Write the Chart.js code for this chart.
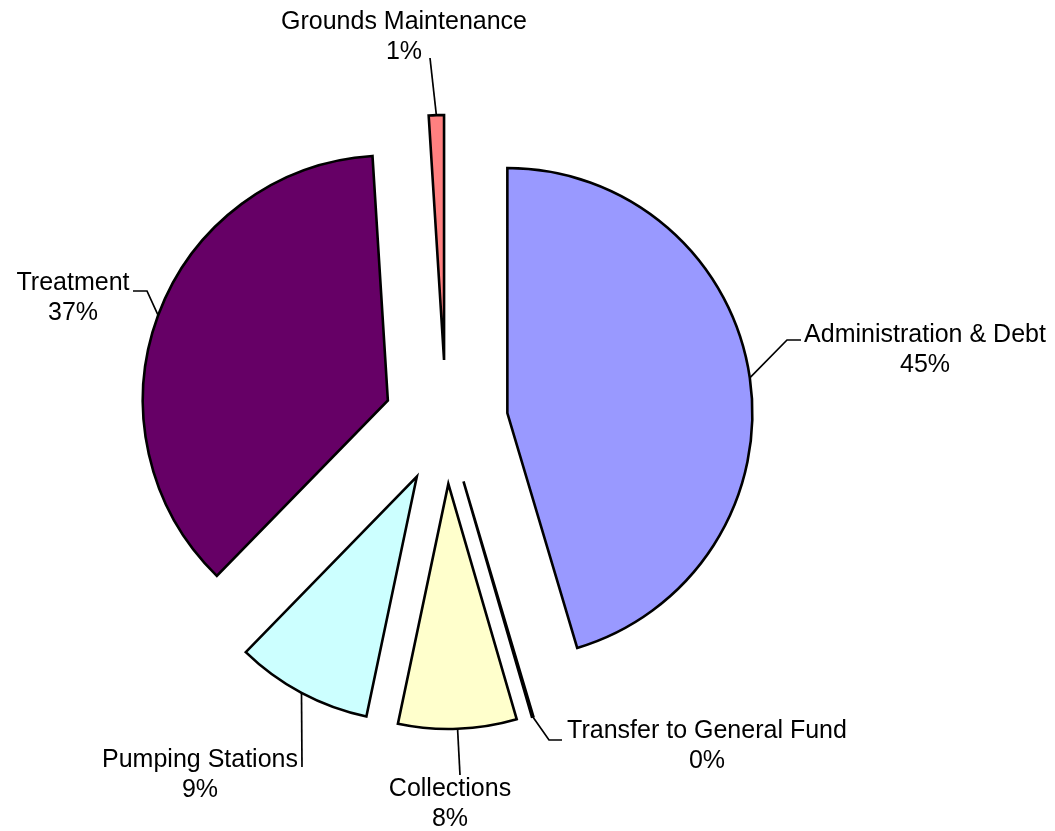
<!DOCTYPE html>
<html>
<head>
<meta charset="utf-8">
<script src="https://cdn.jsdelivr.net/npm/chart.js@4/dist/chart.umd.min.js"></script>
<style>
  html, body { margin: 0; padding: 0; background: #fff; }
  #wrap { width: 1055px; height: 831px; }
</style>
</head>
<body>
<div id="wrap"><canvas id="budgetPie" width="1055" height="831"></canvas></div>
<script>
const categories = ['Administration & Debt', 'Transfer to General Fund', 'Collections', 'Pumping Stations', 'Treatment', 'Grounds Maintenance'];
const sharePct = [45.4, 0.1, 7.8, 9.0, 36.7, 1.0];
const sliceColors = ['#9999FF', '#993366', '#FFFFCC', '#CCFFFF', '#660066', '#FF8080'];

const EXPLODE = 62; // how far each slice is pulled out from the centre
const FONT = '25px "Liberation Sans", Arial, sans-serif';

// label centre (first line) and the bend of its leader line
const labelSpots = [
    { x: 925, y: 335, bend: [[787, 340], [801, 340]] },
    { x: 707, y: 731, bend: [[549, 740], [562, 740]] },
    { x: 450, y: 789, bend: [[460, 775]] },
    { x: 200, y: 760, bend: [[302, 767]] },
    { x: 73, y: 283, bend: [[147, 291], [133, 291]] },
    { x: 404, y: 22, bend: [[430, 58]] },
];

const explodedSlices = {
    id: 'explodedSlices',
    beforeDatasetDraw(chart, args) {
        const ctx = chart.ctx;
        args.meta.data.forEach(arc => {
            const mid = (arc.startAngle + arc.endAngle) / 2;
            ctx.save();
            ctx.translate(Math.cos(mid) * EXPLODE, Math.sin(mid) * EXPLODE);
            arc.draw(ctx, chart.chartArea);
            ctx.restore();
        });
        return false;
    },
    afterDraw(chart) {
        const ctx = chart.ctx;
        const meta = chart.getDatasetMeta(0);
        const total = sharePct.reduce((a, b) => a + b, 0);
        ctx.save();
        ctx.font = FONT;
        ctx.fillStyle = '#000';
        ctx.strokeStyle = '#000';
        ctx.lineWidth = 1.7;
        ctx.textAlign = 'center';
        ctx.textBaseline = 'middle';
        meta.data.forEach((arc, i) => {
            const spot = labelSpots[i];
            const mid = (arc.startAngle + arc.endAngle) / 2;
            const r = arc.outerRadius + EXPLODE;
            const sx = arc.x + Math.cos(mid) * r;
            const sy = arc.y + Math.sin(mid) * r;
            ctx.beginPath();
            ctx.moveTo(sx, sy);
            spot.bend.forEach(p => ctx.lineTo(p[0], p[1]));
            ctx.stroke();
            ctx.fillText(categories[i], spot.x, spot.y);
            ctx.fillText(Math.round(sharePct[i] / total * 100) + '%', spot.x, spot.y + 30);
        });
        ctx.restore();
    }
};

new Chart(document.getElementById('budgetPie'), {
    type: 'pie',
    data: {
        labels: categories,
        datasets: [{
            data: sharePct,
            backgroundColor: sliceColors,
            borderColor: '#000',
            borderWidth: 2.6,
            borderJoinStyle: 'miter',
        }],
    },
    options: {
        responsive: false,
        animation: false,
        radius: 245,
        layout: { padding: { left: 0, right: 163, top: 13, bottom: 0 } },
        plugins: {
            legend: { display: false },
            tooltip: { enabled: false },
        },
    },
    plugins: [explodedSlices],
});
</script>
</body>
</html>
